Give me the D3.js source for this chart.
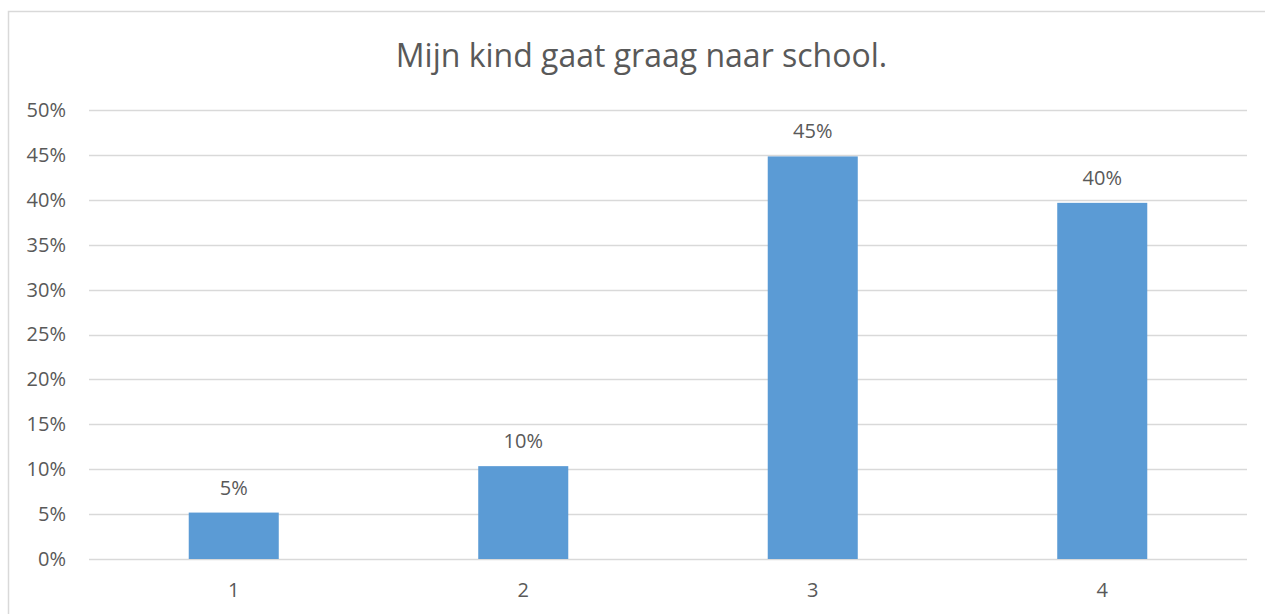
<!DOCTYPE html>
<html>
<head>
<meta charset="utf-8">
<script src="https://cdn.jsdelivr.net/npm/d3@7"></script>
<style>
  body { margin: 0; background: #fff; }
  svg { display: block; }
  text { font-family: "Open Sans", sans-serif; fill: #595959; }
</style>
</head>
<body>
<div id="chart"></div>
<script>
var categories = ["1", "2", "3", "4"];
var values = [0.0517, 0.1034, 0.4483, 0.3966];
var labels = ["5%", "10%", "45%", "40%"];
var yTicks = [0, 0.05, 0.10, 0.15, 0.20, 0.25, 0.30, 0.35, 0.40, 0.45, 0.50];
var title = "Mijn kind gaat graag naar school.";

var width = 1265, height = 614;
var margin = {left: 89, right: 18, top: 110, bottom: 55};

var svg = d3.select("#chart").append("svg")
    .attr("width", width)
    .attr("height", height);

// chart frame (cut off at right and bottom like the reference)
svg.append("rect")
    .attr("x", 8.5).attr("y", 11.5)
    .attr("width", width + 10).attr("height", height + 10)
    .attr("fill", "#fff")
    .attr("stroke", "#d9d9d9")
    .attr("stroke-width", 1.5);

var x = d3.scaleBand()
    .domain(categories)
    .range([margin.left, width - margin.right])
    .paddingInner(0.689)
    .paddingOuter(0.3445);

var y = d3.scaleLinear()
    .domain([0, 0.5])
    .range([height - margin.bottom, margin.top]);

// gridlines
svg.append("g")
    .selectAll("line")
    .data(yTicks)
    .join("line")
    .attr("x1", margin.left)
    .attr("x2", width - margin.right)
    .attr("y1", function(d) { return Math.round(y(d)) + 0.5; })
    .attr("y2", function(d) { return Math.round(y(d)) + 0.5; })
    .attr("stroke", "#d9d9d9")
    .attr("stroke-width", 1.3);

// y axis labels
var yAxis = d3.axisLeft(y)
    .tickValues(yTicks)
    .tickFormat(d3.format(".0%"))
    .tickSize(0)
    .tickPadding(23);
svg.append("g")
    .attr("transform", "translate(" + margin.left + ",0)")
    .call(yAxis)
    .call(function(g) { g.select(".domain").remove(); })
    .selectAll("text")
    .style("font-size", "20px")
    .style("font-family", "'Open Sans', sans-serif")
    .attr("fill", "#595959");

// x axis labels
var xAxis = d3.axisBottom(x).tickSize(0).tickPadding(24);
svg.append("g")
    .attr("transform", "translate(0," + y(0) + ")")
    .call(xAxis)
    .call(function(g) { g.select(".domain").remove(); })
    .selectAll("text")
    .style("font-size", "20px")
    .style("font-family", "'Open Sans', sans-serif")
    .attr("fill", "#595959");

// bars
svg.append("g")
    .selectAll("rect")
    .data(values)
    .join("rect")
    .attr("x", function(d, i) { return x(categories[i]); })
    .attr("y", function(d) { return y(d); })
    .attr("width", x.bandwidth())
    .attr("height", function(d) { return y(0) - y(d); })
    .attr("fill", "#5b9bd5");

// data labels
svg.append("g")
    .selectAll("text")
    .data(values)
    .join("text")
    .attr("x", function(d, i) { return x(categories[i]) + x.bandwidth() / 2; })
    .attr("y", function(d) { return y(d) - 18; })
    .attr("text-anchor", "middle")
    .style("font-size", "20px")
    .text(function(d, i) { return labels[i]; });

// title
svg.append("text")
    .attr("x", 641.5)
    .attr("y", 67)
    .attr("text-anchor", "middle")
    .style("font-size", "32px")
    .text(title);
</script>
</body>
</html>
